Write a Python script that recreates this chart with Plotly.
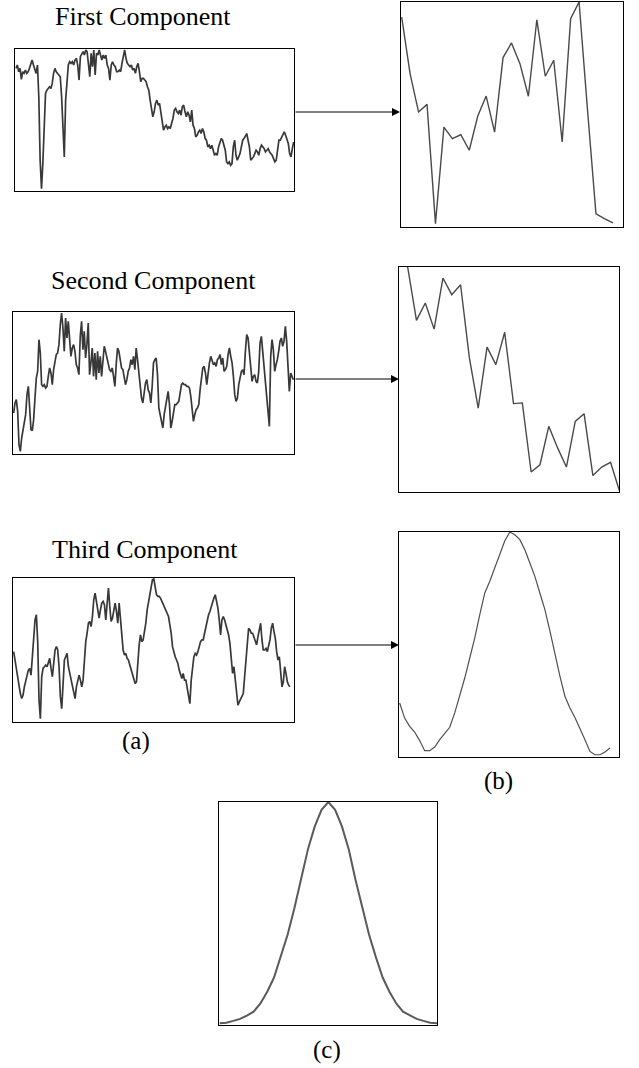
import plotly.graph_objects as go

W, H = 639, 1068

# ---------------- data ----------------
first_component = [367,377,357,367,334,357,352,362,352,357,367,377,392,377,367,352,377,282,92,7,82,222,292,302,307,312,307,322,352,367,357,352,347,342,282,162,102,272,342,377,387,382,387,377,392,397,377,332,402,412,417,407,422,417,377,342,412,372,422,347,412,407,422,402,392,407,397,407,377,367,332,377,387,377,372,357,357,362,357,382,407,422,397,382,377,372,377,362,367,352,372,382,357,327,337,337,332,327,312,302,272,252,222,237,262,272,257,262,237,207,182,192,197,187,192,187,202,217,242,247,237,232,242,227,252,257,237,222,237,227,207,242,197,187,162,167,177,182,172,187,177,157,152,132,137,127,137,117,107,112,107,132,142,157,152,137,122,87,82,87,77,82,132,152,107,92,102,112,132,152,157,167,172,152,132,92,97,102,112,122,117,107,127,137,132,127,117,122,127,117,112,107,97,87,92,132,152,152,162,167,177,167,152,142,112,102,127,147]

second_component = [123,153,163,128,28,8,48,68,88,118,178,203,138,73,70,103,168,228,248,343,303,208,203,208,198,203,233,258,243,208,253,273,298,303,328,388,423,378,308,408,348,398,328,293,318,328,308,268,258,238,353,398,313,368,288,328,393,238,273,318,233,303,223,308,243,293,233,283,323,308,288,268,253,248,258,233,203,268,318,308,283,258,253,233,208,223,248,258,283,268,293,253,318,283,248,213,168,153,188,213,223,193,183,153,203,273,283,288,238,138,118,93,78,118,138,168,188,148,78,98,128,148,148,153,158,183,208,213,208,208,203,203,198,173,138,98,118,133,138,148,193,238,258,263,243,208,253,273,293,278,268,273,263,283,288,298,268,288,248,253,263,298,318,293,273,233,178,158,168,208,233,248,253,238,308,358,348,308,263,218,233,238,218,213,248,333,353,308,263,228,183,148,83,293,343,313,248,268,283,308,338,348,323,338,383,338,248,188,243,233,223]

third_component = [210,185,155,125,105,85,70,80,105,125,145,155,160,140,195,255,305,320,240,65,10,135,160,165,170,165,180,190,160,135,175,215,225,215,165,75,40,115,185,195,205,165,145,125,110,85,70,105,125,140,125,105,125,185,240,265,295,300,285,315,365,385,355,325,310,335,355,360,350,305,355,400,345,300,310,330,355,330,295,355,305,260,215,200,205,190,185,170,155,140,130,115,120,190,230,260,240,245,270,295,335,360,385,405,425,427,400,380,375,375,370,360,350,340,335,325,315,290,265,225,205,195,185,175,155,140,130,145,125,125,105,85,55,125,165,195,205,200,210,230,240,245,245,265,285,300,320,330,345,360,370,380,360,340,305,260,305,315,305,290,275,260,235,195,145,165,125,95,50,60,70,75,85,135,185,245,280,275,265,265,255,245,230,255,280,295,245,215,215,220,210,225,245,280,295,270,250,210,185,195,155,105,120,165,145,120,110,105]

first_reduced = [93.3,68.1,51.1,54.5,1.5,44.4,39.3,41.0,34.1,49.2,58.2,42.2,75.3,81.8,72.6,58.1,92.1,67.0,74.1,37.8,92.6,100,52,5.9,3.7,1.8]
second_reduced = [100,76.3,84.0,72.4,95.1,87.7,92.1,59.6,37.3,64.4,56.6,71.0,39.3,39.6,8.9,12.1,29.2,19.6,11.1,31.4,34.8,7.3,11.1,13.2,0.7]
third_reduced = [24.0,17.3,13.6,11.1,7.3,2.8,2.8,4.4,7.7,10.7,13.2,19.6,27.0,35.1,44.0,52.9,63.3,72.9,78.1,84.0,90.7,96.1,100,98.8,96.6,92.1,86.2,80.3,72.9,65.5,56.1,45.5,35.9,27.0,21.8,17.6,12.9,7.7,2.5,1.0,1.0,2.2,4.0]
gaussian = [0,0.3,1.1,2.0,3.5,5.3,9.0,14.3,20.7,29.9,40.0,52.0,64.9,78.7,89.0,96.5,100,96.5,89.0,78.7,64.9,52.0,40.0,29.9,20.7,14.3,9.0,5.3,3.5,2.0,1.1,0.3,0]

titles = ["First Component", "Second Component", "Third Component"]
labels = ["(a)", "(b)", "(c)"]

# ---------------- layout helpers ----------------
# panel boxes in pixels: (left, top, right, bottom)
panels = [
    dict(box=(15, 49, 294, 191), y=first_component, xr=(-0.75, 0.25), yr=(0, 425), color="#383838", w=1.7),
    dict(box=(401, 2, 623, 227), y=first_reduced, xr=(-0.08, 1.2), yr=(0, 100), color="#4a4a4a", w=1.4),
    dict(box=(13, 312, 294, 454), y=second_component, xr=(-0.5, 0.5), yr=(0, 426), color="#383838", w=1.7),
    dict(box=(399, 267, 619, 492), y=second_reduced, xr=(-0.98, -0.04), yr=(0, 100), color="#4a4a4a", w=1.4),
    dict(box=(13, 578, 294, 722), y=third_component, xr=(-0.5, 3.0), yr=(0, 430), color="#383838", w=1.7),
    dict(box=(399, 532, 619, 757), y=third_reduced, xr=(-0.13, 1.8), yr=(0, 100), color="#505050", w=1.2),
    dict(box=(219, 802, 437, 1025), y=gaussian, xr=(-0.1, 0.0), yr=(-0.75, 100), color="#5a5a5a", w=2.0),
]

fig = go.Figure()
layout = dict(width=W, height=H, margin=dict(l=0, r=0, t=0, b=0),
              paper_bgcolor="white", plot_bgcolor="white", showlegend=False)

for i, p in enumerate(panels, start=1):
    l, t, r, b = p["box"]
    n = len(p["y"])
    xs = list(range(n))
    suffix = "" if i == 1 else str(i)
    fig.add_trace(go.Scatter(x=xs, y=p["y"], mode="lines",
                             line=dict(color=p["color"], width=p["w"]),
                             xaxis="x" + suffix, yaxis="y" + suffix,
                             hoverinfo="skip"))
    axcommon = dict(showgrid=False, zeroline=False, showticklabels=False, ticks="",
                    showline=True, mirror=True, linecolor="black", linewidth=1)
    layout["xaxis" + suffix] = dict(domain=[l / W, r / W],
                                   range=[p["xr"][0], n - 1 + p["xr"][1]],
                                   anchor="y" + suffix, **axcommon)
    layout["yaxis" + suffix] = dict(domain=[1 - b / H, 1 - t / H],
                                   range=list(p["yr"]),
                                   anchor="x" + suffix, **axcommon)

fig.update_layout(**layout)

font = dict(family="Liberation Serif, Times New Roman, serif", size=26, color="black")
text_pos = [(143, 17), (153, 280), (145, 549)]
for txt, (x, y) in zip(titles, text_pos):
    fig.add_annotation(text=txt, x=x / W, y=1 - y / H, xref="paper", yref="paper",
                       showarrow=False, xanchor="center", yanchor="middle", font=font)

lab_pos = [(136, 741), (498, 781), (327, 1050)]
for txt, (x, y) in zip(labels, lab_pos):
    fig.add_annotation(text=txt, x=x / W, y=1 - y / H, xref="paper", yref="paper",
                       showarrow=False, xanchor="center", yanchor="middle",
                       font=dict(family=font["family"], size=25, color="black"))

# arrows from left panels to right panels
arrows = [(294, 400, 112), (294, 399, 379), (294, 399, 645)]
for x0, x1, y in arrows:
    fig.add_annotation(text="", x=x1 / W, y=1 - y / H, xref="paper", yref="paper",
                       ax=x0 - x1, ay=0, axref="pixel", ayref="pixel",
                       showarrow=True, arrowhead=2, arrowsize=1.6, arrowwidth=1,
                       arrowcolor="black")

fig.write_html("out.html",
               config={"displayModeBar": False, "staticPlot": True},
               post_script="document.body.style.margin='0';document.body.style.overflow='hidden';")
